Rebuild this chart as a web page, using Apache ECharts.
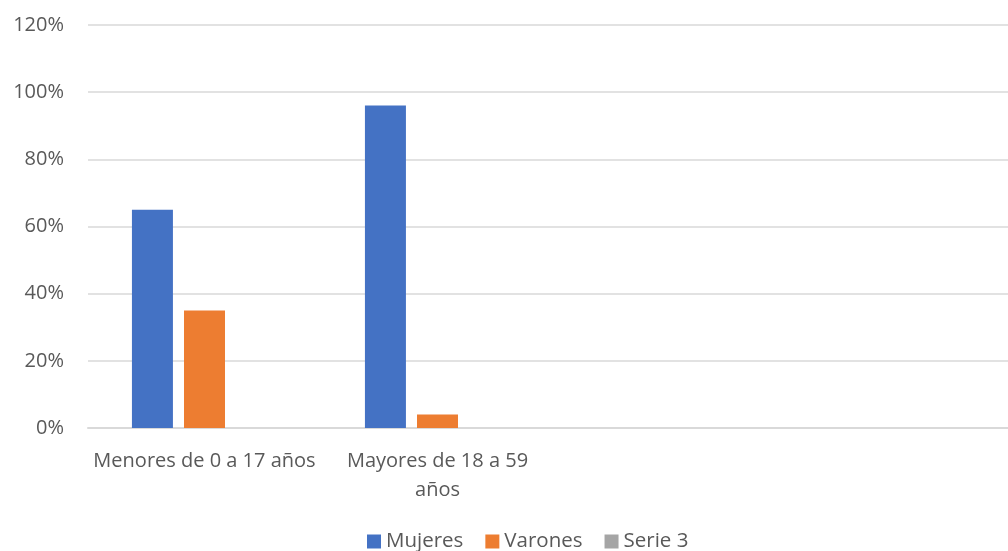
<!DOCTYPE html>
<html>
<head>
<meta charset="utf-8">
<script src="https://cdn.jsdelivr.net/npm/echarts@6/dist/echarts.min.js"></script>
<style>
  html, body { margin: 0; padding: 0; background: #fff; }
  #chart { width: 1008px; height: 551px; }
</style>
</head>
<body>
<div id="chart"></div>
<script>
// categorias (las dos ultimas vacias, como en la hoja original)
const categories = ['Menores de 0 a 17 años', 'Mayores de 18 a 59\naños', '', '']
const mujeres = [0.65, 0.96, null, null]
const varones = [0.35, 0.04, null, null]
const serie3 = [0, 0, null, null]
const yTicks = [0, 0.2, 0.4, 0.6, 0.8, 1.0, 1.2]

const textColor = '#595959'
const font = 'Open Sans'

const chart = echarts.init(document.getElementById('chart'))
chart.setOption({
  animation: false,
  grid: { left: 88, width: 932, top: 25, bottom: 123, outerBoundsMode: 'none', containLabel: false },
  legend: {
    top: 526,
    left: 362,
    itemWidth: 14,
    itemHeight: 14,
    itemGap: 22,
    icon: 'rect',
    textStyle: { color: textColor, fontSize: 20.5, fontFamily: font }
  },
  xAxis: {
    type: 'category',
    data: categories,
    axisTick: { show: false },
    axisLine: { lineStyle: { color: '#d9d9d9', width: 2 } },
    axisLabel: {
      interval: 0,
      color: textColor,
      fontSize: 20,
      fontFamily: font,
      margin: 19,
      lineHeight: 29
    }
  },
  yAxis: {
    type: 'value',
    min: yTicks[0],
    max: yTicks[yTicks.length - 1],
    interval: 0.2,
    axisLine: { show: false },
    axisTick: { show: false },
    splitLine: { lineStyle: { color: '#d9d9d9', width: 1.5 } },
    axisLabel: {
      color: textColor,
      fontSize: 20,
      fontFamily: font,
      margin: 24,
      formatter: v => Math.round(v * 100) + '%'
    }
  },
  series: [
    { name: 'Mujeres', type: 'bar', data: mujeres, barWidth: 41, barGap: '27%', itemStyle: { color: '#4472c4' } },
    { name: 'Varones', type: 'bar', data: varones, barWidth: 41, barGap: '27%', itemStyle: { color: '#ed7d31' } },
    { name: 'Serie 3', type: 'bar', data: serie3, barWidth: 41, barGap: '27%', itemStyle: { color: '#a5a5a5' } }
  ]
})
</script>
</body>
</html>
